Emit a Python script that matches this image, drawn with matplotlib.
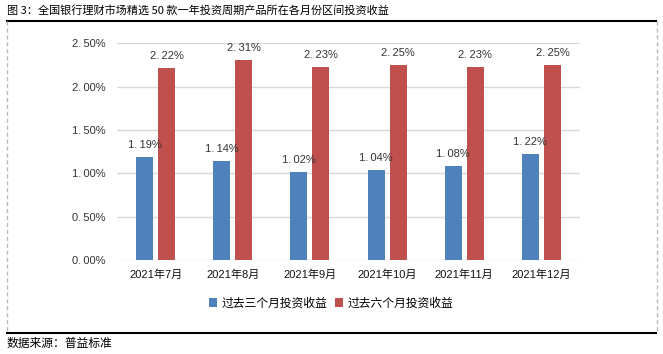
import matplotlib
matplotlib.use('Agg')
import matplotlib.pyplot as plt
import numpy as np
from matplotlib.lines import Line2D

plt.rcParams['font.family'] = ['Liberation Sans', 'Noto Sans CJK SC']

months = ['2021年7月', '2021年8月', '2021年9月', '2021年10月', '2021年11月', '2021年12月']
ret_3m = [1.19, 1.14, 1.02, 1.04, 1.08, 1.22]
ret_6m = [2.22, 2.31, 2.23, 2.25, 2.23, 2.25]
series_names = ['过去三个月投资收益', '过去六个月投资收益']
title = '图 3：全国银行理财市场精选 50 款一年投资周期产品所在各月份区间投资收益'
source = '数据来源：普益标准'

W, H = 663, 354
fig = plt.figure(figsize=(W / 100, H / 100), dpi=100)


def fx(px):
    return px / W


def fy(py):
    return 1 - py / H


ax = fig.add_axes([fx(117), fy(260), fx(580) - fx(117), fy(43.3) - fy(260)])

x = np.arange(len(months))
bw = 0.22
off = 0.143
blue = '#4F81BD'
red = '#C0504D'
b1 = ax.bar(x - off, ret_3m, bw, color=blue, label=series_names[0], zorder=3)
b2 = ax.bar(x + off, ret_6m, bw, color=red, label=series_names[1], zorder=3)


def fmt(v):
    return '{:.2f}%'.format(v).replace('.', '.\u2009')


for xi, v in zip(x - off, ret_3m):
    ax.annotate(fmt(v), (xi, v), xytext=(0, 5), textcoords='offset points',
                ha='center', va='bottom', fontsize=8, color='#333333')
for xi, v in zip(x + off, ret_6m):
    ax.annotate(fmt(v), (xi, v), xytext=(0, 5), textcoords='offset points',
                ha='center', va='bottom', fontsize=8, color='#333333')

ax.set_ylim(0, 2.5)
ax.set_xlim(-0.5, len(months) - 0.5)
yt = np.arange(0, 2.51, 0.5)
ax.set_yticks(yt)
ax.set_yticklabels([fmt(v) for v in yt], fontsize=8, color='#333333')
ax.set_xticks(x)
ax.set_xticklabels(months, fontsize=8, color='#111111')
ax.tick_params(length=0)
ax.tick_params(axis='y', pad=8)
ax.tick_params(axis='x', pad=7)
ax.grid(axis='y', color='#D9D9D9', linewidth=1, zorder=0)
for s in ax.spines.values():
    s.set_visible(False)

fig.legend(handles=[b1, b2], loc='center', bbox_to_anchor=(fx(331), fy(303)),
           ncol=2, frameon=False, handlelength=0.7, handleheight=0.7,
           handletextpad=0.4, columnspacing=0.6,
           prop={'family': ['Noto Sans CJK SC'], 'size': 8.5})

# frame lines
fig.add_artist(Line2D([fx(7), fx(656)], [fy(21), fy(21)], color='black', lw=1.5))
fig.add_artist(Line2D([fx(7), fx(656)], [fy(333), fy(333)], color='black', lw=1.5))
fig.add_artist(Line2D([fx(7), fx(7)], [fy(21), fy(333)], color='#BBBBBB', lw=1, ls=(0, (3, 2))))
fig.add_artist(Line2D([fx(657), fx(657)], [fy(21), fy(333)], color='#BBBBBB', lw=1, ls=(0, (3, 2))))

fig.text(fx(7), fy(10), title, ha='left', va='center', fontsize=8,
         family=['Noto Sans CJK SC', 'DejaVu Sans'])
fig.text(fx(7), fy(343), source, ha='left', va='center', fontsize=8.5,
         family=['Noto Sans CJK SC', 'DejaVu Sans'])

fig.savefig('out.png', dpi=100)
